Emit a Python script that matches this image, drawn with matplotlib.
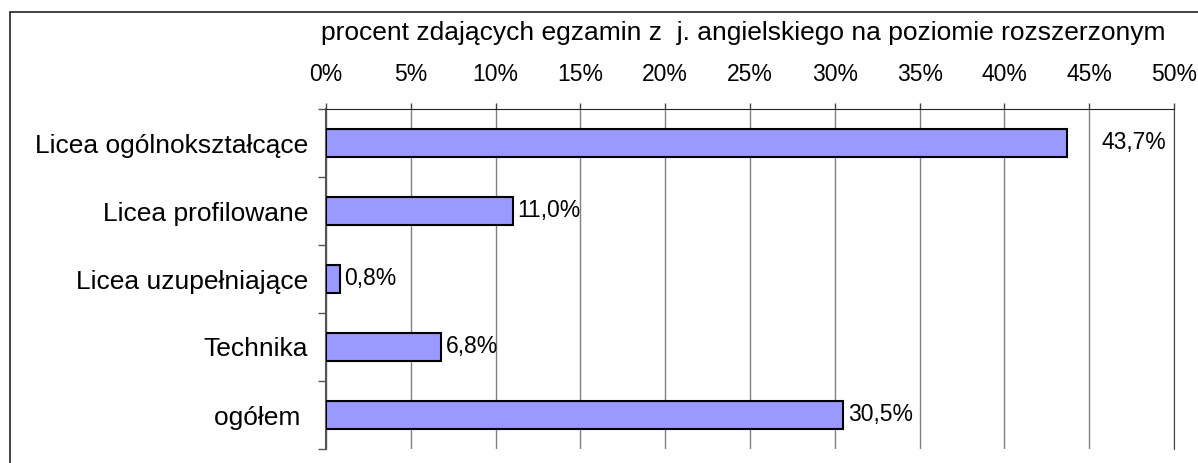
import numpy as np
import matplotlib
matplotlib.use("Agg")
import matplotlib.pyplot as plt
from matplotlib.ticker import MultipleLocator, FuncFormatter

plt.rcParams['font.family'] = ['Liberation Sans', 'DejaVu Sans']

categories = ["Licea ogólnokształcące", "Licea profilowane", "Licea uzupełniające",
              "Technika", "ogółem "]
values = [43.7, 11.0, 0.8, 6.8, 30.5]
value_labels = ["43,7%", "11,0%", "0,8%", "6,8%", "30,5%"]
title = "procent zdających egzamin z  j. angielskiego na poziomie rozszerzonym"

fig = plt.figure(figsize=(11.98, 4.63), dpi=100)
ax = fig.add_axes([326 / 1198, 1 - 449 / 463, (1174 - 326) / 1198, (449 - 109) / 463])

# outer chart border (right/bottom edges fall outside the picture)
fig.add_artist(plt.Rectangle((10 / 1198, -0.1), 1.2, 1 - 11.5 / 463 + 0.1,
                             transform=fig.transFigure, fill=False,
                             edgecolor="#222222", linewidth=1.2))

y = np.arange(len(categories))
ax.barh(y, values, height=0.42, color="#9999FF", edgecolor="black", linewidth=1.5, zorder=3)

for i, (v, lab) in enumerate(zip(values, value_labels)):
    off = 34 if v > 40 else 5
    ax.annotate(lab, (v, i), xytext=(off * 0.72, 0), textcoords="offset points",
                va="center", ha="left", fontsize=16.5)

ax.set_xlim(0, 50)
ax.set_ylim(len(categories) - 0.5, -0.5)
ax.xaxis.set_major_locator(MultipleLocator(5))
ax.xaxis.set_major_formatter(FuncFormatter(lambda x, p: f"{x:.0f}%"))
ax.xaxis.tick_top()
ax.tick_params(axis="x", direction="out", length=4.5, width=1, color="#444444",
               labelsize=16.5, pad=12)
ax.grid(axis="x", color="#808080", linewidth=1, zorder=0)

ax.set_yticks(y)
ax.set_yticklabels(categories, fontsize=19)
ax.set_yticks(np.arange(len(categories) + 1) - 0.5, minor=True)
ax.tick_params(axis="y", which="major", length=0, pad=13)
ax.tick_params(axis="y", which="minor", direction="out", length=6, width=1, color="#555555")

fig.text(743 / 1198, 1 - 33 / 463, title, fontsize=19, ha="center", va="center")

ax.spines["bottom"].set_visible(False)
ax.spines["right"].set_color("#444444")
ax.spines["top"].set_color("#222222")
ax.spines["left"].set_color("#555555")
ax.spines["left"].set_linewidth(1.5)

fig.savefig("out.png", dpi=100)
